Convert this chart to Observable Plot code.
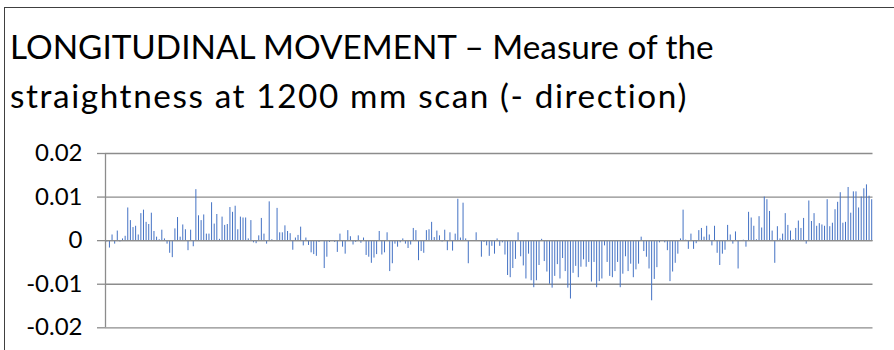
<!DOCTYPE html>
<html>
<head>
<meta charset="utf-8">
<script src="https://cdn.jsdelivr.net/npm/d3@7"></script>
<script src="https://cdn.jsdelivr.net/npm/@observablehq/plot@0.6"></script>
<style>
  html, body { margin: 0; padding: 0; background: #fff; width: 894px; height: 350px; overflow: hidden; }
  #frame { position: absolute; left: 4px; top: 7px; width: 1000px; height: 500px;
           border-left: 1.5px solid #404040; border-top: 1.5px solid #404040; }
  #title { position: absolute; left: 10px; top: 22px; margin: 0;
           font-family: Lato, sans-serif; font-weight: normal;
           font-size: 33.3px; line-height: 49px; color: #000; white-space: nowrap; }
  #title .second { letter-spacing: 1.6px; }
  #chart { position: absolute; left: 0; top: 130px; }
</style>
</head>
<body>
<div id="frame"></div>
<h1 id="title"><span>LONGITUDINAL MOVEMENT – Measure of the</span><br><span class="second">straightness at 1200 mm scan (- direction)</span></h1>
<div id="chart"></div>
<script>
// Straightness deviation for each scan step along the 1200 mm travel
const deviation = [
  -0.0003, -0.0017, 0.0013, -0.0008, 0.0022, -0.0003, 0.0004, 0.0010, 0.0075, 0.0046,
  0.0030, 0.0033, 0.0013, 0.0062, 0.0070, 0.0042, 0.0037, 0.0063, 0.0021, 0.0008,
  0.0002, 0.0024, 0.0004, -0.0008, -0.0029, -0.0039, 0.0027, 0.0053, 0.0008, 0.0036,
  0.0025, -0.0023, 0.0024, -0.0014, 0.0117, 0.0057, 0.0046, 0.0059, 0.0015, 0.0015,
  0.0087, 0.0038, 0.0060, 0.0003, 0.0054, 0.0035, 0.0037, 0.0076, 0.0065, 0.0079,
  0.0025, 0.0054, 0.0052, 0.0052, 0.0004, 0.0046, -0.0005, -0.0007, 0.0011, 0.0051,
  0.0015, -0.0008, 0.0089, 0.0002, -0.0002, 0.0074, 0.0018, 0.0018, 0.0034, 0.0021,
  0.0016, -0.0022, 0.0006, 0.0012, 0.0031, -0.0012, 0.0006, -0.0011, -0.0028, -0.0032,
  -0.0036, -0.0004, -0.0002, -0.0064, -0.0038, -0.0004, -0.0001, -0.0004, -0.0027, 0.0015,
  -0.0015, -0.0031, 0.0023, 0.0009, -0.0010, -0.0004, 0.0011, -0.0006, 0.0006, -0.0034,
  -0.0038, -0.0052, -0.0040, -0.0032, 0.0021, -0.0033, -0.0028, 0.0018, -0.0071, -0.0053,
  -0.0008, -0.0015, -0.0005, 0.0004, -0.0008, -0.0018, -0.0010, 0.0028, 0.0023, -0.0046,
  -0.0025, -0.0029, 0.0023, 0.0025, 0.0042, 0.0007, 0.0022, 0.0011, -0.0003, 0.0024,
  -0.0023, 0.0018, -0.0024, 0.0015, 0.0095, 0.0006, 0.0086, 0.0004, -0.0053, -0.0001,
  0.0000, 0.0018, -0.0002, -0.0038, -0.0004, -0.0012, -0.0036, -0.0013, -0.0031, 0.0004,
  -0.0013, -0.0005, -0.0033, -0.0080, -0.0085, -0.0064, -0.0043, 0.0018, -0.0037, -0.0058,
  -0.0088, -0.0031, -0.0092, -0.0108, -0.0092, -0.0057, 0.0003, -0.0048, -0.0072, -0.0100,
  -0.0109, -0.0082, -0.0055, -0.0088, -0.0041, -0.0071, -0.0109, -0.0134, -0.0075, -0.0059,
  -0.0085, -0.0061, -0.0044, -0.0061, -0.0050, -0.0095, -0.0050, -0.0108, -0.0094, -0.0088,
  -0.0012, -0.0050, -0.0082, -0.0085, -0.0071, -0.0050, -0.0108, -0.0077, -0.0037, -0.0071,
  -0.0054, -0.0085, -0.0067, -0.0054, 0.0008, -0.0025, -0.0038, -0.0065, -0.0138, -0.0089,
  -0.0062, -0.0005, 0.0000, -0.0005, -0.0023, -0.0094, -0.0072, -0.0052, -0.0031, 0.0004,
  0.0070, 0.0001, -0.0020, 0.0015, -0.0020, -0.0007, 0.0023, 0.0028, 0.0008, 0.0033,
  0.0013, -0.0012, 0.0033, -0.0029, -0.0057, -0.0031, -0.0022, 0.0035, 0.0013, -0.0008,
  0.0020, -0.0065, 0.0000, 0.0001, -0.0015, 0.0065, 0.0052, 0.0033, 0.0002, 0.0055,
  0.0029, 0.0100, 0.0094, 0.0067, 0.0022, -0.0052, 0.0032, 0.0004, 0.0015, 0.0062,
  0.0035, 0.0022, 0.0002, 0.0028, 0.0045, 0.0028, 0.0051, -0.0008, 0.0091, 0.0044,
  0.0062, 0.0033, 0.0039, 0.0036, 0.0033, 0.0094, 0.0032, 0.0040, 0.0071, 0.0088,
  0.0110, 0.0040, 0.0042, 0.0122, 0.0063, 0.0112, 0.0112, 0.0075, 0.0100, 0.0119,
  0.0128, 0.0102, 0.0094
];

// Value axis ticks and their printed labels
const yTicks = [-0.02, -0.01, 0, 0.01, 0.02];
const yTickLabels = ["-0.02", "-0.01", "0", "0.01", "0.02"];

const points = deviation.map((v, i) => ({step: i, value: v}));
const xDomain = [-0.5, deviation.length - 0.5];
const gridColor = "#8c8c8c";

const chart = Plot.plot({
  width: 894,
  height: 220,
  marginLeft: 105,
  marginRight: 21.5,
  marginTop: 23,
  marginBottom: 22.7,
  style: {fontFamily: "Lato, sans-serif", fontSize: "24px", color: "#000", background: "transparent"},
  x: {domain: xDomain, axis: null},
  y: {domain: [yTicks[0], yTicks[yTicks.length - 1]]},
  marks: [
    Plot.ruleY(yTicks, {stroke: gridColor, strokeWidth: 1.3}),
    Plot.axisY({
      ticks: yTicks,
      tickFormat: (d) => yTickLabels[yTicks.indexOf(d)],
      tickSize: 8,
      tickPadding: 15,
      stroke: gridColor,
      strokeWidth: 1.3,
      fill: "#000",
      label: null
    }),
    Plot.ruleX(points, {x: "step", y1: 0, y2: "value", stroke: "#4472C4", strokeWidth: 1}),
    Plot.ruleY([0], {stroke: gridColor, strokeWidth: 1.3}),
    Plot.ruleX([xDomain[0]], {stroke: gridColor, strokeWidth: 1.3})
  ]
});

document.getElementById("chart").appendChild(chart);
</script>
</body>
</html>
